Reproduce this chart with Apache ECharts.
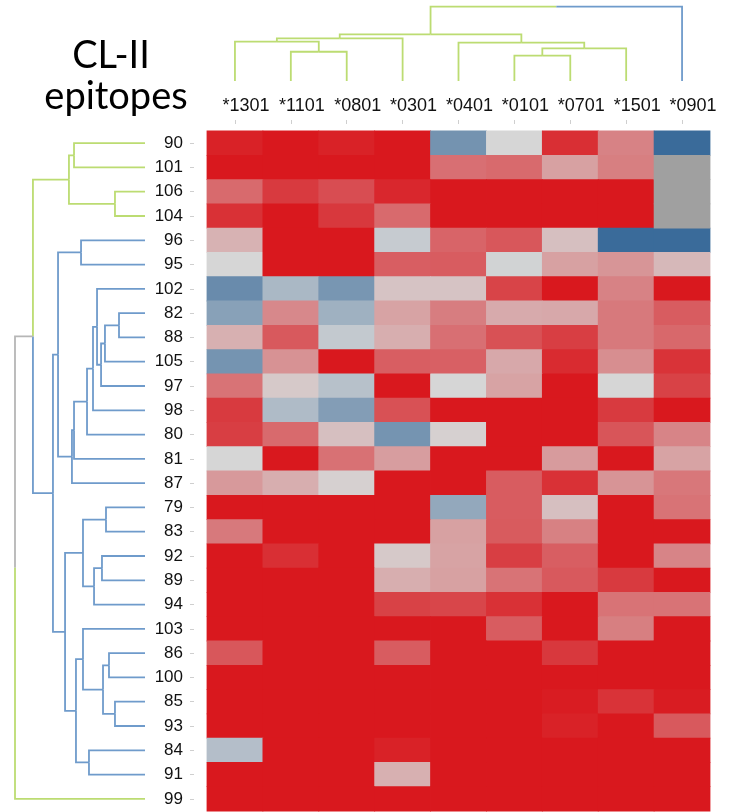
<!DOCTYPE html>
<html>
<head>
<meta charset="utf-8">
<script src="https://cdn.jsdelivr.net/npm/echarts@6/dist/echarts.min.js"></script>
<style>
  html, body { margin: 0; padding: 0; background: #fff; }
  #main { width: 730px; height: 812px; }
</style>
</head>
<body>
<div id="main"></div>
<script>
// HLA alleles (columns) and epitopes (rows), in dendrogram order
const alleles = ['*1301', '*1101', '*0801', '*0301', '*0401', '*0101', '*0701', '*1501', '*0901']
const epitopes = ['90', '101', '106', '104', '96', '95', '102', '82', '88', '105', '97', '98', '80', '81',
    '87', '79', '83', '92', '89', '94', '103', '86', '100', '85', '93', '84', '91', '99']

// scaled score per epitope row (-1 blue .. 0 grey .. 1 red), null = no data
const scores = [
    [0.95, 1, 0.95, 1, -0.63, 0, 0.88, 0.44, -1],
    [1, 1, 1, 1, 0.54, 0.57, 0.28, 0.46, null],
    [0.57, 0.82, 0.72, 0.92, 1, 1, 1, 1, null],
    [0.87, 1, 0.83, 0.57, 1, 1, 1, 1, null],
    [0.19, 1, 1, -0.1, 0.6, 0.67, 0.12, -1, -1],
    [0, 1, 1, 0.63, 0.64, -0.03, 0.28, 0.34, 0.16],
    [-0.7, -0.28, -0.6, 0.1, 0.1, 0.77, 1, 0.44, 1],
    [-0.5, 0.41, -0.35, 0.27, 0.47, 0.23, 0.24, 0.49, 0.64],
    [0.2, 0.66, -0.12, 0.21, 0.54, 0.7, 0.8, 0.49, 0.58],
    [-0.62, 0.36, 1, 0.63, 0.62, 0.24, 0.9, 0.38, 0.86],
    [0.52, 0.07, -0.2, 1, 0, 0.27, 1, 0, 0.78],
    [0.82, -0.25, -0.53, 0.7, 1, 1, 1, 0.82, 1],
    [0.8, 0.57, 0.12, -0.62, 0.03, 1, 1, 0.68, 0.43],
    [0, 1, 0.53, 0.3, 1, 1, 0.31, 1, 0.27],
    [0.32, 0.21, 0.03, 1, 1, 0.64, 0.87, 0.35, 0.5],
    [1, 1, 1, 1, -0.43, 0.64, 0.12, 1, 0.52],
    [0.49, 1, 1, 1, 0.28, 0.65, 0.45, 1, 1],
    [1, 0.88, 1, 0.07, 0.27, 0.8, 0.63, 1, 0.43],
    [1, 1, 1, 0.21, 0.28, 0.52, 0.66, 0.82, 1],
    [1, 1, 1, 0.78, 0.76, 0.87, 1, 0.52, 0.52],
    [1, 1, 1, 1, 1, 0.64, 1, 0.46, 1],
    [0.67, 1, 1, 0.64, 1, 1, 0.83, 1, 1],
    [1, 1, 1, 1, 1, 1, 1, 1, 1],
    [1, 1, 1, 1, 1, 1, 0.98, 0.86, 0.98],
    [1, 1, 1, 1, 1, 1, 0.95, 1, 0.66],
    [-0.22, 1, 1, 0.95, 1, 1, 1, 1, 1],
    [1, 1, 1, 0.2, 1, 1, 1, 1, 1],
    [1, 1, 1, 1, 1, 1, 1, 1, 1]
]

// dendrograms: [left, right, merge height], leaves are labels
const colTree = [
    [[['*1301', ['*1101', '*0801', 3.94], 5.29], '*0301', 5.74],
     ['*0401', [['*0101', '*0701', 3.41], '*1501', 4.40], 5.16], 6.28],
    '*0901', 10]

const rowTree = [
    [
        [['90', '101', 5.46], ['106', '104', 2.31], 5.85],
        [
            [['96', '95', 4.92],
             [[[[['102', [[['82', '88', 2.00], '105', 3.08], '97', 3.38], 3.69], '98', 4.00], '80', 4.46], '81', 5.46], '87', 5.62],
             6.69],
            [[['79', '83', 3.00], [['92', '89', 3.31], '94', 3.92], 4.77],
             [['103', [['86', '100', 2.77], ['85', '93', 2.31], 3.23], 4.77], ['84', '91', 4.31], 5.31],
             6.15],
            7.08]
        , 8.62],
    '99', 10]

const clusterCut = 8
const lineColors = ['#bcdc72', '#6f9bcb', '#b6b6b6'] // green, blue, above cut
const labelFont = "'Liberation Sans', Arial, sans-serif"

// turn a tree into polyline segments (one per child link)
function dendroSegments(tree, labels, leftSide) {
    const segs = []
    let next = 0
    function walk(node, color) {
        if (typeof node === 'string') {
            const c = color !== null ? color : (next++ % 2)
            return { p: labels.indexOf(node), h: 0, c: c }
        }
        let c = color
        if (c === null && node[2] < clusterCut) c = next++ % 2
        const a = walk(node[0], c)
        const b = walk(node[1], c)
        const m = (a.p + b.p) / 2
        const h = node[2];
        [a, b].forEach(k => {
            const pts = [[k.p, k.h], [k.p, h], [m, h]]
            const v = []
            pts.forEach(pt => leftSide ? v.push(pt[1], pt[0]) : v.push(pt[0], pt[1]))
            v.push(k.c)
            segs.push(v)
        })
        return { p: m, h: h, c: c !== null ? c : 2 }
    }
    walk(tree, null)
    return segs
}

function renderDendro(params, api) {
    const pts = [0, 1, 2].map(i => api.coord([api.value(2 * i), api.value(2 * i + 1)]))
    return {
        type: 'polyline',
        shape: { points: pts },
        style: { stroke: lineColors[api.value(6)], fill: 'none', lineWidth: 1.8 }
    }
}

// heatmap cell, grown a little so neighbouring cells leave no seams
function renderCell(params, api) {
    const p = api.coord([api.value(0), api.value(1)])
    const s = api.size([1, 1])
    return {
        type: 'rect',
        shape: { x: p[0] - s[0] / 2 - 0.4, y: p[1] - s[1] / 2 - 0.4, width: s[0] + 0.8, height: s[1] + 0.8 },
        style: { fill: api.visual('color') }
    }
}

const heatData = []
const naData = []
scores.forEach((row, r) => {
    row.forEach((v, c) => {
        if (v === null) naData.push([c, r, 0])
        else heatData.push([c, r, v])
    })
})

const chart = echarts.init(document.getElementById('main'))
const option = {
    animation: false,
    backgroundColor: '#fff',
    graphic: [
        { type: 'text', x: 111, y: 56, style: { text: 'CL-II', font: '38px Lato', fill: '#000', textAlign: 'center', textVerticalAlign: 'middle' } },
        { type: 'text', x: 116, y: 97, style: { text: 'epitopes', font: '38px Lato', fill: '#000', textAlign: 'center', textVerticalAlign: 'middle' } }
    ],
    grid: [
        { left: 207, top: 131, width: 503, height: 680 },   // heatmap
        { left: 207, top: 6.7, width: 503, height: 74.3 },  // column dendrogram
        { left: 15, top: 131, width: 130, height: 680 }     // row dendrogram
    ],
    xAxis: [
        {
            type: 'category', data: alleles, gridIndex: 0, position: 'top', offset: 7,
            axisLine: { show: false },
            axisTick: { show: true, length: 4, alignWithLabel: true, lineStyle: { color: '#cfcfcf' } },
            // labels sit a bit right of their column in the original
            axisLabel: { interval: 0, margin: 9, fontSize: 18, color: '#111', fontFamily: labelFont, padding: [0, 0, 0, 22] },
            splitLine: { show: false }
        },
        { type: 'value', gridIndex: 1, min: -0.5, max: 8.5, show: false },
        { type: 'value', gridIndex: 2, min: 0, max: 10, inverse: true, show: false }
    ],
    yAxis: [
        {
            type: 'category', data: epitopes, gridIndex: 0, inverse: true, offset: 13,
            axisLine: { show: false },
            axisTick: { show: true, length: 4, alignWithLabel: true, lineStyle: { color: '#cfcfcf' } },
            axisLabel: { interval: 0, margin: 11, fontSize: 17, color: '#111', fontFamily: labelFont },
            splitLine: { show: false }
        },
        { type: 'value', gridIndex: 1, min: 0, max: 10, show: false },
        { type: 'value', gridIndex: 2, min: -0.5, max: 27.5, inverse: true, show: false }
    ],
    visualMap: {
        type: 'continuous', show: false, seriesIndex: 0, dimension: 2, min: -1, max: 1,
        inRange: { color: ['#3a6b9a', '#d6d6d6', '#d9181e'] }
    },
    series: [
        {
            type: 'custom', xAxisIndex: 0, yAxisIndex: 0, data: heatData,
            encode: { x: 0, y: 1 }, renderItem: renderCell
        },
        {
            type: 'custom', xAxisIndex: 0, yAxisIndex: 0, data: naData,
            encode: { x: 0, y: 1 }, itemStyle: { color: '#a0a0a0' }, renderItem: renderCell
        },
        {
            type: 'custom', xAxisIndex: 1, yAxisIndex: 1, clip: false,
            data: dendroSegments(colTree, alleles, false), renderItem: renderDendro
        },
        {
            type: 'custom', xAxisIndex: 2, yAxisIndex: 2, clip: false,
            data: dendroSegments(rowTree, epitopes, true), renderItem: renderDendro
        }
    ]
}
chart.setOption(option)
</script>
</body>
</html>
